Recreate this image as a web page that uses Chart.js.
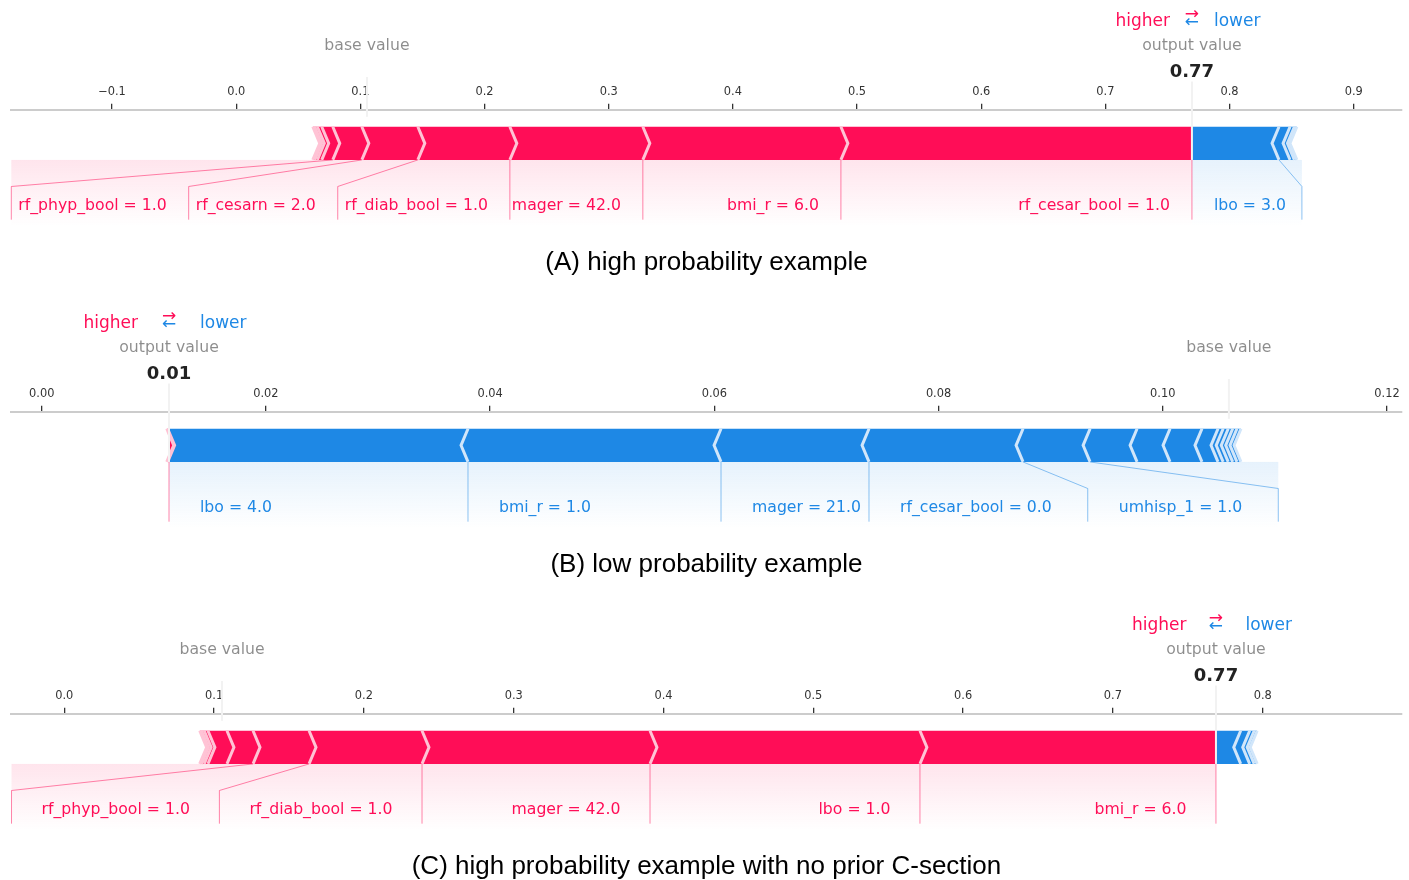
<!DOCTYPE html>
<html>
<head>
<meta charset="utf-8">
<title>SHAP force plots</title>
<script src="https://cdn.jsdelivr.net/npm/chart.js@4.4.0/dist/chart.umd.min.js"></script>
<style>
  body { margin: 0; background: #fff; width: 1409px; height: 880px; overflow: hidden; position: relative; }
  .panel { position: absolute; left: 0; width: 1409px; height: 280px; }
</style>
</head>
<body>
<div class="panel" style="top:0"><canvas id="chartA" width="1409" height="280"></canvas></div>
<div class="panel" style="top:302px"><canvas id="chartB" width="1409" height="280"></canvas></div>
<div class="panel" style="top:604px"><canvas id="chartC" width="1409" height="280"></canvas></div>
<script>
// Datos de cada panel (valores SHAP)

// (A) alta probabilidad
const ticksA = [-0.1, 0.0, 0.1, 0.2, 0.3, 0.4, 0.5, 0.6, 0.7, 0.8, 0.9];
const outA = 0.7697;
const baseA = 0.1053;
const posNamesA = ['rf_cesar_bool = 1.0', 'bmi_r = 6.0', 'mager = 42.0', 'rf_diab_bool = 1.0', 'rf_cesarn = 2.0', 'rf_phyp_bool = 1.0', '', '', '', ''];
const posShapA = [0.2827, 0.1595, 0.1071, 0.0741, 0.0451, 0.0234, 0.0089, 0.0035, 0.0022, 0.0015];
const negNamesA = ['lbo = 3.0', '', '', ''];
const negShapA = [0.0701, 0.0089, 0.0035, 0.0020];

// (B) baja probabilidad
const ticksB = [0.00, 0.02, 0.04, 0.06, 0.08, 0.10, 0.12];
const outB = 0.011355;
const baseB = 0.1059;
const posNamesB = ['', ''];
const posShapB = [0.00012, 0.00008];
const negNamesB = ['lbo = 4.0', 'bmi_r = 1.0', 'mager = 21.0', 'rf_cesar_bool = 0.0', 'umhisp_1 = 1.0', '', '', '', '', '', '', '', '', ''];
const negShapB = [0.02667, 0.02257, 0.0132, 0.01374, 0.00598, 0.00419, 0.00294, 0.00285, 0.00143, 0.00046, 0.00045, 0.00040, 0.00038, 0.00036];

// (C) alta probabilidad sin cesarea previa
const ticksC = [0.0, 0.1, 0.2, 0.3, 0.4, 0.5, 0.6, 0.7, 0.8];
const outC = 0.7688;
const baseC = 0.1053;
const posNamesC = ['bmi_r = 6.0', 'lbo = 1.0', 'mager = 42.0', 'rf_diab_bool = 1.0', 'rf_phyp_bool = 1.0', '', '', '', '', ''];
const posShapC = [0.1976, 0.1802, 0.1522, 0.0754, 0.0374, 0.0174, 0.0127, 0.0025, 0.0018, 0.0012];
const negNamesC = ['', '', '', ''];
const negShapC = [0.0165, 0.0060, 0.0030, 0.0020];

const RED = ['#FF0D57', '#FFC3D5'];
const BLUE = ['#1E88E5', '#D1E6FA'];
const LABEL_FONT = '15.7px "DejaVu Sans"';

// Etiquetas bajo la barra (posicion segun ancho del texto)
function layoutLabels(ctx, X, out, names, shap, sign, gap, gapEnd) {
  const outPx = X(out);
  const lines = [];
  const texts = [];
  if (sign === 1) lines.push([[outPx, 0], [outPx, -0.18]]);
  let start = outPx, boxEnd = outPx, val = out;
  for (let i = 0; i < shap.length; i++) {
    if (!names[i]) break;
    val = val - sign * shap[i];
    const vPx = X(val);
    const w = ctx.measureText(names[i]).width;
    const tx = start - sign * gap;
    const far = tx - sign * w;
    texts.push({ text: names[i], x: tx, align: sign === 1 ? 'right' : 'left' });
    if (sign * far > sign * vPx) {
      lines.push([[vPx, 0], [vPx, -0.18]]);
      start = vPx;
      boxEnd = vPx;
    } else {
      boxEnd = far - sign * gapEnd;
      lines.push([[vPx, 0], [boxEnd, -0.08], [boxEnd, -0.18]]);
      start = boxEnd;
    }
  }
  return { lines, texts, boxEnd };
}

function shade(ctx, Y, x0, x1, rgb) {
  if (Math.abs(x1 - x0) < 1) return;
  const g = ctx.createLinearGradient(0, Y(0), 0, Y(-0.2));
  g.addColorStop(0, 'rgba(' + rgb + ',0.11)');
  g.addColorStop(1, 'rgba(' + rgb + ',0)');
  ctx.fillStyle = g;
  ctx.fillRect(Math.min(x0, x1), Y(0), Math.abs(x1 - x0), Y(-0.2) - Y(0));
}

// Barras con forma de flecha
function drawBars(ctx, X, Y, out, shap, sign, indent, colors) {
  const wb = 0.1;
  let pre = out;
  const seps = [];
  shap.forEach((s, i) => {
    let left, right, ind, sp;
    if (sign === 1) {
      right = pre; left = pre - s; pre = left; ind = indent; sp = left;
    } else {
      left = pre; right = pre + s; pre = right; ind = -indent; sp = right;
    }
    let pts;
    if (i === 0) {
      pts = sign === 1
        ? [[left, 0], [right, 0], [right, wb], [left, wb], [left + ind, wb / 2]]
        : [[right, 0], [left, 0], [left, wb], [right, wb], [right + ind, wb / 2]];
    } else {
      pts = [[left, 0], [right, 0], [right + ind * 0.9, wb / 2], [right, wb], [left, wb], [left + ind * 0.9, wb / 2]];
    }
    ctx.beginPath();
    pts.forEach((p, k) => k ? ctx.lineTo(X(p[0]), Y(p[1])) : ctx.moveTo(X(p[0]), Y(p[1])));
    ctx.closePath();
    ctx.fillStyle = colors[0];
    ctx.fill();
    seps.push([[sp, 0], [sp + ind, wb / 2], [sp, wb]]);
  });
  ctx.strokeStyle = colors[1];
  ctx.lineWidth = 3;
  ctx.lineJoin = 'miter';
  seps.forEach(sep => {
    ctx.beginPath();
    sep.forEach((p, k) => k ? ctx.lineTo(X(p[0]), Y(p[1])) : ctx.moveTo(X(p[0]), Y(p[1])));
    ctx.stroke();
  });
}

function drawLines(ctx, Y, lines, color) {
  ctx.strokeStyle = color;
  ctx.lineWidth = 1;
  lines.forEach(l => {
    ctx.beginPath();
    l.forEach((p, k) => k ? ctx.lineTo(p[0], Y(p[1])) : ctx.moveTo(p[0], Y(p[1])));
    ctx.stroke();
  });
}

function boxedText(ctx, text, x, y, size, font, color) {
  ctx.font = font;
  const w = ctx.measureText(text).width;
  ctx.fillStyle = '#fff';
  ctx.fillRect(x - w / 2 - 4, y - size * 0.95, w + 8, size * 1.2);
  ctx.fillStyle = color;
  ctx.textAlign = 'center';
  ctx.fillText(text, x, y);
}

const forcePlot = {
  id: 'forcePlot',
  afterDraw(chart, args, o) {
    const ctx = chart.ctx;
    const xs = chart.scales.x, ys = chart.scales.y;
    const X = v => xs.getPixelForValue(v);
    const Y = v => ys.getPixelForValue(v);
    const indent = (xs.max - xs.min) / 200;
    const outPx = X(o.out);

    ctx.save();
    ctx.font = LABEL_FONT;
    const posLab = layoutLabels(ctx, X, o.out, o.posNames, o.posShap, 1, o.gap, o.gapEndPos);
    const negLab = layoutLabels(ctx, X, o.out, o.negNames, o.negShap, -1, o.gap, o.gapEndNeg);

    shade(ctx, Y, outPx, posLab.boxEnd, '255,13,87');
    shade(ctx, Y, outPx, negLab.boxEnd, '30,136,229');

    drawBars(ctx, X, Y, o.out, o.negShap, -1, indent, BLUE);
    drawBars(ctx, X, Y, o.out, o.posShap, 1, indent, RED);

    drawLines(ctx, Y, negLab.lines, 'rgba(30,136,229,0.5)');
    drawLines(ctx, Y, posLab.lines, 'rgba(255,13,87,0.5)');

    ctx.font = LABEL_FONT;
    ctx.textBaseline = 'alphabetic';
    negLab.texts.forEach(t => { ctx.fillStyle = BLUE[0]; ctx.textAlign = t.align; ctx.fillText(t.text, t.x, Y(-0.15)); });
    posLab.texts.forEach(t => { ctx.fillStyle = RED[0]; ctx.textAlign = t.align; ctx.fillText(t.text, t.x, Y(-0.15)); });

    // higher / lower
    ctx.font = '17px "DejaVu Sans"';
    ctx.fillStyle = RED[0];
    ctx.textAlign = 'right';
    ctx.fillText('higher', outPx - o.gap, Y(0.405));
    ctx.fillStyle = BLUE[0];
    ctx.textAlign = 'left';
    ctx.fillText('lower', outPx + o.gap, Y(0.405));
    ctx.textAlign = 'center';
    ctx.fillText('\u2190', outPx, Y(0.4));
    ctx.fillStyle = RED[0];
    ctx.fillText('\u2192', outPx, Y(0.425));

    // valor base
    const bPx = X(o.base);
    ctx.strokeStyle = '#F2F2F2';
    ctx.lineWidth = 2;
    ctx.beginPath();
    ctx.moveTo(bPx, Y(0.13));
    ctx.lineTo(bPx, Y(0.25));
    ctx.stroke();
    boxedText(ctx, 'base value', bPx, Y(0.33), 15.7, LABEL_FONT, 'rgba(0,0,0,0.45)');

    // valor de salida
    ctx.strokeStyle = '#F2F2F2';
    ctx.beginPath();
    ctx.moveTo(outPx, Y(0));
    ctx.lineTo(outPx, Y(0.24));
    ctx.stroke();
    boxedText(ctx, o.out.toFixed(2), outPx, Y(0.25), 18, 'bold 18px "DejaVu Sans"', '#222');
    boxedText(ctx, 'output value', outPx, Y(0.33), 15.7, LABEL_FONT, 'rgba(0,0,0,0.45)');
    ctx.restore();
  }
};

function fmt(v, dec) {
  if (Math.abs(v) < 1e-9) v = 0;
  return (v < 0 ? '\u2212' : '') + Math.abs(v).toFixed(dec);
}

function makeChart(id, cfg) {
  return new Chart(document.getElementById(id), {
    type: 'scatter',
    data: { datasets: [{ data: [] }] },
    options: {
      responsive: false,
      animation: false,
      devicePixelRatio: 1,
      layout: { padding: { top: 80, left: 11, right: 7, bottom: 0 } },
      plugins: {
        legend: { display: false },
        tooltip: { enabled: false },
        title: {
          display: true,
          position: 'bottom',
          text: cfg.caption,
          color: '#000',
          font: { family: "'Liberation Sans', Arial, sans-serif", size: 26, weight: 'normal' },
          padding: { top: 0, bottom: 2 }
        },
        forcePlot: cfg
      },
      scales: {
        x: {
          type: 'linear',
          position: 'top',
          min: cfg.min,
          max: cfg.max,
          afterBuildTicks: axis => { axis.ticks = cfg.ticks.map(v => ({ value: v })); },
          ticks: {
            autoSkip: false,
            maxRotation: 0,
            padding: 5,
            color: '#333',
            font: { family: 'DejaVu Sans', size: 11.4 },
            callback: v => fmt(v, cfg.dec)
          },
          grid: { drawOnChartArea: false, drawTicks: true, tickLength: 6, color: '#333', lineWidth: 1.3 },
          border: { display: true, color: '#cccccc', width: 2 }
        },
        y: { type: 'linear', display: false, min: -0.2618, max: 0.1515 }
      }
    },
    plugins: [forcePlot]
  });
}

makeChart('chartA', {
  caption: '(A) high probability example',
  min: -0.18136, max: 0.93887, ticks: ticksA, dec: 1,
  out: outA, base: baseA,
  posNames: posNamesA, posShap: posShapA, negNames: negNamesA, negShap: negShapA,
  gap: 22, gapEndPos: 7, gapEndNeg: 16
});

makeChart('chartB', {
  caption: '(B) low probability example',
  min: -0.00274, max: 0.12134, ticks: ticksB, dec: 2,
  out: outB, base: baseB,
  posNames: posNamesB, posShap: posShapB, negNames: negNamesB, negShap: negShapB,
  gap: 31, gapEndPos: 36, gapEndNeg: 36
});

makeChart('chartC', {
  caption: '(C) high probability example with no prior C-section',
  min: -0.03558, max: 0.89299, ticks: ticksC, dec: 1,
  out: outC, base: baseC,
  posNames: posNamesC, posShap: posShapC, negNames: negNamesC, negShap: negShapC,
  gap: 29.5, gapEndPos: 30, gapEndNeg: 30
});
</script>
</body>
</html>
